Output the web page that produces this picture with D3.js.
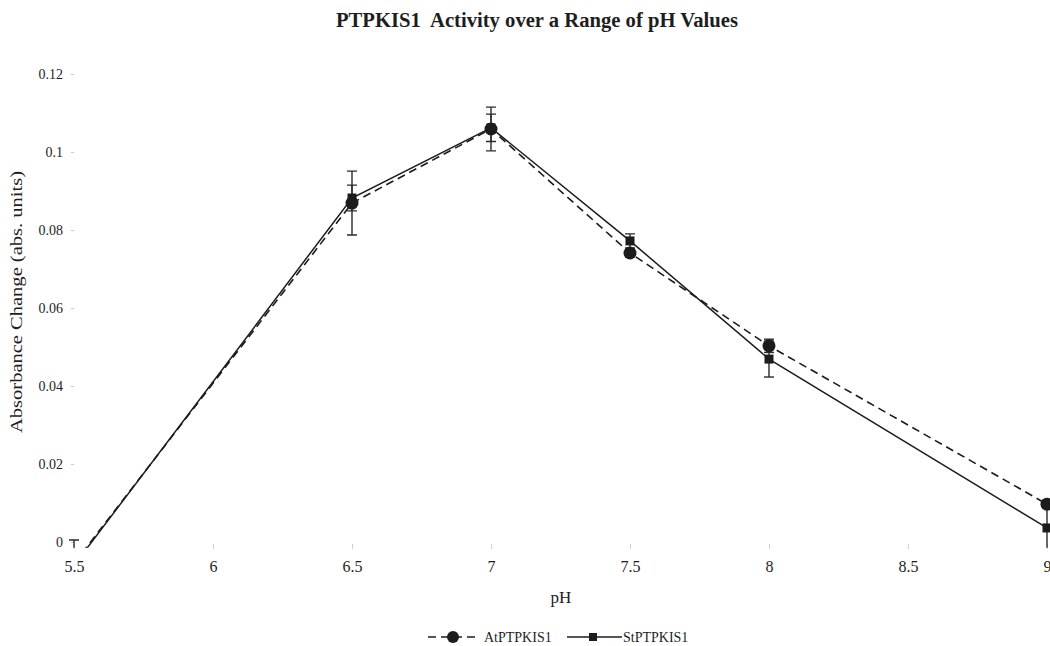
<!DOCTYPE html>
<html>
<head>
<meta charset="utf-8">
<script src="https://cdn.jsdelivr.net/npm/d3@7"></script>
<style>
  html, body { margin: 0; padding: 0; background: #fff; }
  svg { display: block; }
  text { font-family: "Liberation Serif", "Times New Roman", serif; fill: #1e1e1e; }
</style>
</head>
<body>
<svg id="chart" width="1050" height="646"></svg>
<script>
// ---- data ----
const phValues = [5.5, 6.5, 7, 7.5, 8, 9];
const atValues = [-0.0055, 0.0869, 0.1059, 0.0741, 0.0503, 0.0097];
const atErrors = [0.0060, 0.0082, 0.0056, 0.0010, 0.0017, 0.0010];
const stValues = [-0.0060, 0.0882, 0.1062, 0.0772, 0.0469, 0.0036];
const stErrors = [0.0020, 0.0033, 0.0035, 0.0018, 0.0046, 0.0060];
const xTicks = [5.5, 6, 6.5, 7, 7.5, 8, 8.5, 9];
const yTicks = [0, 0.02, 0.04, 0.06, 0.08, 0.1, 0.12];
const seriesNames = ["AtPTPKIS1", "StPTPKIS1"];
const titleText = "PTPKIS1  Activity over a Range of pH Values";
const xTitle = "pH";
const yTitle = "Absorbance Change (abs. units)";

const svg = d3.select("#chart");
const x = d3.scaleLinear().domain([5.5, 9]).range([74, 1047]);
const y = d3.scaleLinear().domain([0, 0.12]).range([542, 74]);

// title
svg.append("text").attr("x", 537).attr("y", 27)
  .attr("text-anchor", "middle").attr("font-size", 20).attr("font-weight", "bold")
  .attr("xml:space", "preserve").style("white-space", "pre")
  .attr("textLength", 402).attr("lengthAdjust", "spacingAndGlyphs")
  .text(titleText);

// y axis (tiny faint ticks, no line)
const yAxis = svg.append("g").attr("transform", "translate(74,0)")
  .call(d3.axisLeft(y).tickValues(yTicks).tickSize(3).tickPadding(8)
    .tickFormat(d => d === 0 ? "0" : String(+d.toFixed(2))));
yAxis.select(".domain").remove();
yAxis.selectAll(".tick line").attr("stroke", "#c8c8c8");
yAxis.selectAll(".tick text").attr("font-size", 14).attr("font-family", "Liberation Serif, serif").attr("fill", "#222");

// x axis
const xAxis = svg.append("g").attr("transform", "translate(0,544)")
  .call(d3.axisBottom(x).tickValues(xTicks).tickSize(5).tickPadding(12)
    .tickFormat(d => String(d)));
xAxis.select(".domain").remove();
xAxis.selectAll(".tick line").attr("stroke", "#cfcfcf");
xAxis.selectAll(".tick text").attr("font-size", 16).attr("font-family", "Liberation Serif, serif").attr("fill", "#222");

// axis titles
svg.append("text").attr("x", 561).attr("y", 603).attr("text-anchor", "middle")
  .attr("font-size", 17).text(xTitle);
svg.append("text").attr("transform", "translate(22,302) rotate(-90)")
  .attr("text-anchor", "middle").attr("font-size", 16)
  .attr("textLength", 262).attr("lengthAdjust", "spacingAndGlyphs")
  .text(yTitle);

// clip
svg.append("defs").append("clipPath").attr("id", "plotclip")
  .append("rect").attr("x", 60).attr("y", 60).attr("width", 1000).attr("height", y(-0.0015) - 60);

const plot = svg.append("g").attr("clip-path", "url(#plotclip)");
const ink = "#1c1c1c";

const atData = phValues.map((p, i) => ({ p, v: atValues[i], e: atErrors[i] }));
const stData = phValues.map((p, i) => ({ p, v: stValues[i], e: stErrors[i] }));

const line = d3.line().x(d => x(d.p)).y(d => y(d.v));

function errorBars(data) {
  const g = plot.append("g").attr("stroke", "#2a2a2a").attr("stroke-width", 1.4);
  data.forEach(d => {
    const cx = x(d.p), y1 = y(d.v + d.e), y2 = y(d.v - d.e);
    g.append("line").attr("x1", cx).attr("x2", cx).attr("y1", y1).attr("y2", y2);
    g.append("line").attr("x1", cx - 5).attr("x2", cx + 5).attr("y1", y1).attr("y2", y1);
    g.append("line").attr("x1", cx - 5).attr("x2", cx + 5).attr("y1", y2).attr("y2", y2);
  });
}
errorBars(atData);
errorBars(stData);

plot.append("path").datum(atData).attr("d", line).attr("fill", "none")
  .attr("stroke", ink).attr("stroke-width", 1.6).attr("stroke-dasharray", "8,5");
plot.append("path").datum(stData).attr("d", line).attr("fill", "none")
  .attr("stroke", ink).attr("stroke-width", 1.5);

plot.selectAll("circle.at").data(atData).enter().append("circle")
  .attr("cx", d => x(d.p)).attr("cy", d => y(d.v)).attr("r", 6.5).attr("fill", ink);
plot.selectAll("rect.st").data(stData).enter().append("rect")
  .attr("x", d => x(d.p) - 4.5).attr("y", d => y(d.v) - 4.5)
  .attr("width", 9).attr("height", 9).attr("fill", ink);

// legend
const lg = svg.append("g");
const ly = 637;
lg.append("line").attr("x1", 428).attr("x2", 478).attr("y1", ly).attr("y2", ly)
  .attr("stroke", ink).attr("stroke-width", 1.6).attr("stroke-dasharray", "8,5");
lg.append("circle").attr("cx", 453).attr("cy", ly).attr("r", 6).attr("fill", ink);
lg.append("text").attr("x", 484).attr("y", ly + 5).attr("font-size", 14).text(seriesNames[0]);
lg.append("line").attr("x1", 567).attr("x2", 622).attr("y1", ly).attr("y2", ly)
  .attr("stroke", ink).attr("stroke-width", 1.5);
lg.append("rect").attr("x", 589).attr("y", ly - 4).attr("width", 8).attr("height", 8).attr("fill", ink);
lg.append("text").attr("x", 623).attr("y", ly + 5).attr("font-size", 14).text(seriesNames[1]);
</script>
</body>
</html>
